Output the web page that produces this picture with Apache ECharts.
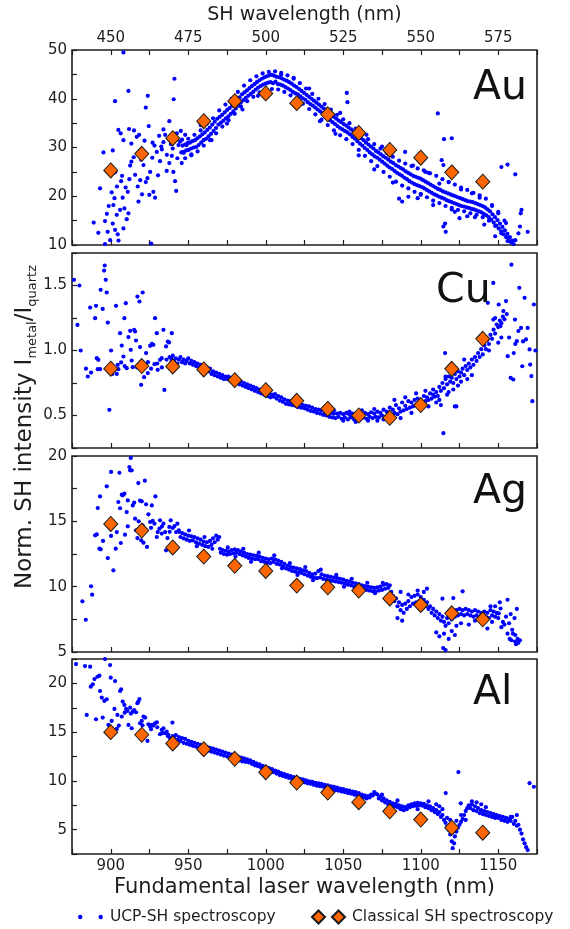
<!DOCTYPE html>
<html><head><meta charset="utf-8">
<script src="https://cdn.jsdelivr.net/npm/echarts@6/dist/echarts.min.js"></script>
<style>html,body{margin:0;padding:0;background:#fff}#chart{width:570px;height:929px}</style>
</head><body><div id="chart"></div>
<script>
// ---------------- DATA ----------------
const metals = ['Au', 'Cu', 'Ag', 'Al'];
const fundamentalTickLabels = [900, 950, 1000, 1050, 1100, 1150];
const shTickLabels = [450, 475, 500, 525, 550, 575];
const auTickLabels = [10, 20, 30, 40, 50];
const cuTickLabels = [0.5, 1.0, 1.5];
const agTickLabels = [5, 10, 15, 20];
const alTickLabels = [5, 10, 15, 20];

const classicalWavelength = [900, 920, 940, 960, 980, 1000, 1020, 1040, 1060, 1080, 1100, 1120, 1140];
const auClassical = [25.3, 28.7, 31.9, 35.4, 39.5, 41.1, 39.1, 36.8, 33.0, 29.5, 27.9, 24.9, 23.0];
const cuClassical = [0.86, 0.88, 0.877, 0.854, 0.772, 0.695, 0.613, 0.551, 0.50, 0.482, 0.58, 0.859, 1.09];
const agClassical = [14.8, 14.29, 13.0, 12.3, 11.6, 11.2, 10.08, 9.95, 9.7, 9.1, 8.6, 7.96, 7.5];
const alClassical = [15.0, 14.73, 13.84, 13.25, 12.26, 10.89, 9.83, 8.8, 7.81, 6.88, 6.03, 5.2, 4.69];

const auUCP = [
[908.2,49.5],[911.4,41.6],[902.8,39.5],[923.9,40.6],[922.6,38.2],[941.1,44.1],[940.6,39.9],[937.8,35.4],[904.9,33.6],[906.4,32.9],[911.8,33.8],[924.5,34.4],[908.2,31.5],[918.3,32.6],[916.8,32.2],[913.3,30.8],[931.2,32.4],[895.3,29.0],[901.3,29.4],[913.3,27.1],[920.0,29.3],[928.2,30.4],[929.7,29.1],[934.0,31.1],[936.2,28.5],[931.8,27.2],[921.1,26.4],[925.4,25.0],[923.7,23.7],[919.0,23.3],[915.7,24.4],[912.5,26.3],[907.3,24.2],[906.7,23.1],[902.8,24.9],[917.4,22.0],[922.6,22.9],[927.5,20.9],[924.9,20.3],[928.6,19.7],[920.2,20.4],[911.0,20.9],[907.7,19.7],[902.4,19.6],[900.6,20.8],[893.1,21.6],[898.7,18.0],[901.7,18.2],[906.0,17.2],[903.9,16.2],[910.3,15.3],[908.8,17.5],[911.4,16.5],[896.3,14.9],[901.3,14.4],[902.8,13.1],[908.2,13.4],[904.5,12.2],[892.0,12.5],[898.0,12.7],[899.6,11.0],[905.0,10.9],[896.3,10.2],[926.1,10.3],[942.2,21.1],[941.5,23.1],[940.4,25.0],[937.8,26.8],[936.1,25.2],[940.0,29.8],[943.7,30.5],[945.8,26.8],[946.9,29.1],[948.0,32.6],[944.7,31.2],[949.0,30.5],[942.6,32.9],[945.2,33.4],[935.1,32.6],[934.0,33.7],[889.0,14.6],[914.8,28.0],[919.6,27.5],[926.8,27.9],[933.0,29.6],[938.8,30.7],[930.5,24.3],[917.9,18.9],[909.6,21.8],[904.0,22.0],[897.5,16.4],[912.0,23.5],[927.0,31.0],[932.6,30.2],[939.4,28.3],[921.8,31.4],[915.0,33.5],[943.0,27.8],
[945.5,29.0],[946.3,30.4],[947.1,28.9],[947.9,30.6],[948.7,29.4],[949.5,30.9],[950.3,29.5],[951.1,31.0],[951.9,29.8],[952.7,31.3],[953.5,30.0],[954.3,31.5],[955.1,30.1],[955.9,31.9],[956.7,30.5],[957.5,32.3],[958.3,31.0],[959.1,32.7],[959.9,31.5],[960.7,33.1],[961.5,31.8],[962.3,33.6],[963.1,32.3],[963.9,34.1],[964.7,32.8],[965.5,34.7],[966.3,33.4],[967.1,35.3],[967.9,34.0],[968.7,35.9],[969.5,34.7],[970.3,36.3],[971.1,35.1],[971.9,36.7],[972.7,35.5],[973.5,37.2],[974.3,36.0],[975.1,37.7],[975.9,36.4],[976.7,38.1],[977.5,36.9],[978.3,38.6],[979.1,37.4],[979.9,39.3],[980.7,38.0],[981.5,39.8],[982.3,38.6],[983.1,40.3],[983.9,39.2],[984.7,40.9],[985.5,39.7],[986.3,41.3],[987.1,40.2],[987.9,41.7],[988.7,40.6],[989.5,42.2],[990.3,41.0],[991.1,42.6],[991.9,41.4],[992.7,43.0],[993.5,41.9],[994.3,43.4],[995.1,42.3],[995.9,43.8],[996.7,42.6],[997.5,44.1],[998.3,42.9],[999.1,44.4],[999.9,43.1],[1000.7,44.6],[1001.5,43.3],[1002.3,44.8],[1003.1,43.4],[1003.9,44.9],[1004.7,43.2],[1005.5,44.7],[1006.3,43.5],[1007.1,44.5],[1007.9,43.0],[1008.7,44.4],[1009.5,42.9],[1010.3,44.2],[1011.1,42.7],[1011.9,43.9],[1012.7,42.4],[1013.5,43.7],[1014.3,42.1],[1015.1,43.4],[1015.9,41.8],[1016.7,43.1],[1017.5,41.4],[1018.3,42.7],[1019.1,41.1],[1019.9,42.4],[1020.7,40.9],[1021.5,42.0],[1022.3,40.5],[1023.1,41.6],[1023.9,40.1],[1024.7,41.2],[1025.5,39.8],[1026.3,40.8],[1027.1,39.3],[1027.9,40.4],[1028.7,38.9],[1029.5,40.0],[1030.3,38.6],[1031.1,39.6],[1031.9,38.2],[1032.7,39.2],[1033.5,37.8],[1034.3,38.8],[1035.1,37.4],[1035.9,38.4],[1036.7,37.0],[1037.5,38.0],[1038.3,36.5],[1039.1,37.6],[1039.9,36.0],[1040.7,37.1],[1041.5,35.6],[1042.3,36.7],[1043.1,35.2],[1043.9,36.3],[1044.7,34.8],[1045.5,35.9],[1046.3,34.4],[1047.1,35.5],[1047.9,34.0],[1048.7,35.2],[1049.5,33.7],[1050.3,34.8],[1051.1,33.4],[1051.9,34.5],[1052.7,33.1],[1053.5,34.1],[1054.3,32.7],[1055.1,33.7],[1055.9,32.2],[1056.7,33.3],[1057.5,31.8],[1058.3,32.9],[1059.1,31.3],[1059.9,32.4],[1060.7,30.8],[1061.5,31.9],[1062.3,30.4],[1063.1,31.5],[1063.9,29.9],[1064.7,31.0],[1065.5,29.5],[1066.3,30.6],[1067.1,29.0],[1067.9,30.2],[1068.7,28.6],[1069.5,29.8],[1070.3,28.2],[1071.1,29.3],[1071.9,27.9],[1072.7,29.0],[1073.5,27.5],[1074.3,28.6],[1075.1,27.1],[1075.9,28.2],[1076.7,26.7],[1077.5,27.9],[1078.3,26.3],[1079.1,27.5],[1079.9,25.9],[1080.7,27.1],[1081.5,25.6],[1082.3,26.8],[1083.1,25.2],[1083.9,26.4],[1084.7,24.8],[1085.5,26.1],[1086.3,24.5],[1087.1,25.8],[1087.9,24.2],[1088.7,25.5],[1089.5,23.8],[1090.3,25.1],[1091.1,23.5],[1091.9,24.8],[1092.7,23.1],[1093.5,24.5],[1094.3,22.8],[1095.1,24.2],[1095.9,22.5],[1096.7,24.0],[1097.5,22.3],[1098.3,23.8],[1099.1,22.1],[1099.9,23.6],[1100.7,21.9],[1101.5,23.3],[1102.3,21.6],[1103.1,23.0],[1103.9,21.3],[1104.7,22.7],[1105.5,21.0],[1106.3,22.4],[1107.1,20.7],[1107.9,22.1],[1108.7,20.4],[1109.5,21.8],[1110.3,20.2],[1111.1,21.5],[1111.9,19.9],[1112.7,21.3],[1113.5,19.7],[1114.3,21.0],[1115.1,19.5],[1115.9,20.8],[1116.7,19.2],[1117.5,20.6],[1118.3,19.0],[1119.1,20.4],[1119.9,18.8],[1120.7,20.2],[1121.5,18.6],[1122.3,20.0],[1123.1,18.4],[1123.9,19.8],[1124.7,18.2],[1125.5,19.6],[1126.3,18.0],[1127.1,19.4],[1127.9,17.9],[1128.7,19.2],[1129.5,17.7],[1130.3,19.0],[1131.1,17.6],[1131.9,18.9],[1132.7,17.4],[1133.5,18.8],[1134.3,17.3],[1135.1,18.6],[1135.9,17.1],[1136.7,18.4],[1137.5,16.9],[1138.3,18.2],[1139.1,16.7],[1139.9,18.0],[1140.7,16.4],[1141.5,17.7],[1142.3,16.1],[1143.1,17.3],[1143.9,15.7],[1144.7,16.9],[1145.5,15.2],[1146.3,16.3],[1147.1,14.6],[1147.9,15.7],[1148.7,14.0],[1149.5,15.1],[1150.3,13.4],[1151.1,14.4],[1151.9,12.8],[1152.7,13.7],[1153.5,12.2],[1154.3,13.0],[1155.1,11.6],[1155.9,12.3],[1156.7,11.0],[1157.5,11.6],[1158.3,10.5],[1159.1,10.9],[1159.9,10.2],
[946,31.6],[948,27.8],[950,31.8],[952,28.6],[954,32.6],[956,29.2],[958,33.5],[960,30.4],[962,34.9],[964,31.5],[966,36.0],[968,32.9],[970,37.6],[972,34.3],[974,38.8],[976,35.6],[978,40.0],[980,36.9],[982,41.4],[984,38.4],[986,42.7],[988,39.5],[990,43.8],[992,40.4],[994,44.6],[996,41.3],[998,45.2],[1000,41.9],[1002,45.5],[1004,42.0],[1006,45.6],[1008,41.9],[1010,45.3],[1012,41.4],[1014,44.8],[1016,40.7],[1018,44.1],[1020,40.0],[1022,43.2],[1024,39.0],[1026,42.1],[1028,37.9],[1030,41.0],[1032,36.8],[1034,40.0],[1036,35.7],[1038,38.9],[1040,34.6],[1042,37.8],[1044,33.5],[1046,36.7],[1048,32.5],[1050,35.8],[1052,31.7],[1054,35.0],[1056,30.7],[1058,33.9],[1060,29.5],[1062,32.8],[1064,28.3],[1066,31.7],[1068,27.2],[1070,30.7],[1072,26.2],[1074,29.8],[1076,25.0],[1078,28.9],[1080,24.0],[1082,28.1],[1084,23.0],[1086,27.3],[1088,22.2],[1090,26.7],[1092,21.6],[1094,26.2],[1096,20.9],[1098,25.7],[1100,20.5],[1102,25.3],[1104,19.8],[1106,24.7],[1108,19.1],[1110,24.2],[1112,18.6],[1114,23.5],[1116,18.0],[1118,22.9],[1120,17.6],[1122,22.4],[1124,17.2],[1126,21.8],[1128,16.9],[1130,21.3],[1132,16.5],[1134,20.7],[1136,16.2],[1138,20.2],[1140,15.7],[1142,19.5],[1144,15.0],[1146,18.2],[1148,13.9],[1150,16.8],[1152,12.4],[1154,15.0],[1156,10.8],
[1052.3,41.2],[1052.7,39.3],[1111.0,37.0],[1115.0,31.7],[1120.0,31.9],[1114.6,13.8],[1115.7,14.4],[1116.1,12.7],[1089.9,29.1],[1086.0,19.5],[1088.0,18.9],[1092.0,19.9],[1113.5,27.4],[1114.6,26.4],[1152.0,26.0],[1156.0,26.5],[1161.0,24.5],[1163.0,12.4],[1164.0,13.8],[1164.5,16.5],[1165.0,17.2],[1169.0,12.7],[1161.0,11.0],[1070.0,25.5],[1075.0,30.2],[1082.0,22.8],[1095.0,26.3],[1098.0,19.6],[1105.0,24.8],[1108.0,18.2],[1118.0,22.9],[1122.0,16.8],[1126.0,21.4],[1130.0,15.9],[1133.0,20.6],[1138.0,19.7],[1141.0,14.2],[1146.0,18.0],[1060.0,28.4],[1065.0,32.6],[1045.0,32.8],[1048.0,37.1],[1035.0,35.4],[1028.0,42.1],[1018.0,44.3],[1010.0,45.0],[995.0,40.6],[985.0,37.8],[975.0,34.9],[965.0,31.5],[958.0,34.6],[952.0,28.4],[1100.0,20.3],[1103.0,25.0],[1112.0,22.6],[1120.0,17.3],[1125.0,15.5],[1135.0,15.7],[1150.0,16.5],[1155.0,14.5],[1148.0,11.8]
];

const cuUCP = [
[876.3,1.544],[879.8,1.50],[878.5,1.197],[880.6,1.0],[885.2,0.80],[887.3,0.83],[886.7,1.33],[889.9,1.249],[890.5,1.344],[891.0,0.941],[892.0,0.928],[891.6,0.856],[893.1,0.856],[893.5,1.467],[894.8,1.32],[895.7,1.615],[896.1,1.654],[896.8,1.544],[897.4,1.446],[898.1,1.215],[899.1,0.544],[900.2,1.0],[903.4,1.344],[903.9,0.82],[904.9,0.856],[904.5,0.89],[906.0,1.133],[906.7,0.908],[907.1,1.038],[908.2,0.954],[908.8,1.249],[909.7,1.364],[910.3,0.864],[911.4,1.103],[912.5,1.151],[912.9,1.005],[913.5,0.923],[914.2,0.872],[915.1,1.159],[915.7,1.146],[916.3,1.077],[917.2,1.415],[918.5,1.377],[918.9,1.026],[919.6,0.736],[920.6,1.446],[921.5,0.795],[922.8,0.98],[923.9,0.826],[925.4,1.036],[926.5,1.051],[927.5,1.044],[928.2,0.895],[928.6,1.249],[929.7,1.133],[930.3,0.851],[931.8,0.928],[932.9,0.941],[934.0,1.159],[934.6,0.697],[935.7,1.031],[936.8,1.069],[937.6,1.062],[939.4,1.133],[939.0,0.941],[884.0,0.86],[898.0,0.86],[901.0,0.82],[909.0,0.88],[917.0,0.87],[924.0,0.91],[930.0,0.90],[933.0,0.87],[936.0,0.93],[926.0,0.86],
[938,0.95],[939,0.91],[940,0.96],[941,0.92],[942,0.94],[943,0.90],[944,0.93],[945,0.95],[946,0.91],[947,0.93],[948,0.90],[949,0.92],[950,0.94],[951,0.90],[952,0.92],[953,0.89],[954,0.91],[955,0.88],[956,0.90],[957,0.87],[958,0.89],[959,0.86],[960,0.88],[961,0.85],[962,0.87],[963,0.84],[964,0.86],[965,0.82],[966,0.84],[967,0.81],[968,0.83],[969,0.80],[970,0.82],[971,0.79],[972,0.81],[973,0.78],[974,0.80],[975,0.78],[976,0.80],[977,0.77],[978,0.79],[979,0.76],[980,0.78],[981,0.75],[982,0.77],[983,0.74],[984,0.76],[985,0.73],[986,0.75],[987,0.72],[988,0.74],[989,0.71],[990,0.73],[991,0.70],[992,0.72],[993,0.69],[994,0.71],[995,0.68],[996,0.70],[997,0.67],[998,0.69],[999,0.66],[1000,0.68],[1001,0.65],[1002,0.67],[1003,0.64],[1004,0.66],[1005,0.645],[1006,0.665],[1007,0.63],[1008,0.65],[1009,0.615],[1010,0.64],[1011,0.605],[1012,0.625],[1013,0.59],[1014,0.615],[1015,0.585],[1016,0.61],[1017,0.58],[1018,0.60],[1019,0.575],[1020,0.595],[1021,0.565],[1022,0.59],[1023,0.56],[1024,0.58],[1025,0.555],[1026,0.575],[1027,0.545],[1028,0.57],[1029,0.535],[1030,0.56],[1031,0.53],[1032,0.55],[1033,0.52],[1034,0.545],[1035,0.515],[1036,0.54],[1037,0.505],[1038,0.53],[1039,0.50],[1040,0.525],[1041,0.49],[1042,0.52],[1043,0.485],[1044,0.515],[1045,0.48],[1046,0.515],[1047,0.49],[1048,0.52],[1049,0.475],[1050,0.51],[1051,0.485],[1052,0.52],[1053,0.47],[1054,0.505],[1055,0.485],[1056,0.515],[1057,0.47],[1058,0.50],[1059,0.48],[1060,0.51],[1061,0.47],[1062,0.505],[1063,0.485],[1064,0.52],[1065,0.475],[1066,0.51],[1067,0.49],[1068,0.525],[1069,0.48],[1070,0.515],[1071,0.49],[1072,0.53],[1073,0.485],[1074,0.52],[1075,0.50],[1076,0.545],[1077,0.49],[1078,0.53],[1079,0.51],[1080,0.56],[1081,0.50],[1082,0.545],[1083,0.52],[1084,0.58],[1085,0.51],[1086,0.555],[1087,0.53],[1088,0.60],[1089,0.54],[1090,0.575],[1091,0.55],[1092,0.61],[1093,0.56],[1094,0.60],[1095,0.57],[1096,0.62],[1097,0.58],[1098,0.63],[1099,0.59],[1100,0.62],[1101,0.60],[1102,0.65],[1103,0.61],[1104,0.64],[1105,0.62],[1106,0.67],[1107,0.63],[1108,0.66],[1109,0.645],[1110,0.68],[1111,0.65],[1112,0.72],[1113,0.69],[1114,0.75],[1115,0.71],[1116,0.78],[1117,0.74],[1118,0.80],[1119,0.76],[1120,0.79],[1121,0.75],[1122,0.82],[1123,0.78],[1124,0.84],[1125,0.80],[1126,0.83],[1127,0.86],[1128,0.81],[1129,0.88],[1130,0.85],[1131,0.90],[1132,0.87],[1133,0.93],[1134,0.89],[1135,0.95],[1136,0.92],[1137,0.98],[1138,0.95],[1139,1.01],[1140,0.97],[1141,1.04],[1142,1.01],[1143,1.08],[1144,1.05],[1145,1.12],[1146,1.09],[1147,1.16],[1148,1.13],[1149,1.20],[1150,1.18],[1151,1.23],[1152,1.21],[1153,1.26],[1154,1.24],
[1083,0.62],[1087,0.48],[1090,0.64],[1094,0.52],[1097,0.67],[1100,0.55],[1103,0.69],[1105,0.57],[1108,0.70],[1110,0.60],[1112,0.62],[1113,0.58],[1114.6,0.364],[1115.7,0.98],[1116,0.80],[1117,0.66],[1118,0.68],[1119,0.86],[1121,0.70],[1122,0.57],[1123,0.57],[1124,0.73],[1126,0.76],[1128,0.93],[1130,0.78],[1133,0.81],[1062,0.54],[1070,0.55],[1076,0.47],[1072,0.46],[1066,0.46],[1058,0.45],[1050,0.46],[1044,0.54],[1054,0.53],
[1143.3,1.367],[1146.8,1.52],[1146.8,1.238],[1150.3,1.354],[1151.4,1.187],[1153.3,1.303],[1155.0,1.38],[1156.1,0.956],[1158.5,1.66],[1158.0,0.79],[1159.7,0.777],[1160.8,1.238],[1162.0,1.072],[1163.6,1.482],[1164.7,1.174],[1165.5,0.879],[1167.0,1.405],[1167.9,1.085],[1169.0,1.174],[1170.2,1.008],[1171.4,0.803],[1172.0,0.61],[1173.0,1.354],[1170.6,0.892],[1157,1.10],[1161,1.05],[1163,1.15],[1166,1.07],[1155.5,1.28],[1150,1.06],[1148,1.25],[1144,1.0],[1152,1.10],[1160,0.98],[1174,1.0]
];

const agUCP = [
[881.7,8.88],[883.9,7.47],[887.3,10.03],[888.0,9.39],[889.9,13.93],[891.0,14.0],[891.6,16.02],[892.7,12.91],[893.5,12.86],[893.1,16.91],[897.4,17.68],[898.1,12.19],[900.2,18.78],[900.2,13.88],[901.7,11.25],[903.2,12.91],[903.9,14.18],[904.9,16.48],[905.6,18.72],[906.5,13.34],[907.1,17.04],[907.7,16.99],[908.8,17.12],[909.2,13.98],[910.3,15.71],[911.0,14.62],[912.0,19.16],[912.5,18.9],[912.9,19.85],[913.5,18.9],[914.2,16.22],[915.1,16.43],[915.7,15.2],[916.3,14.31],[917.2,13.72],[917.8,17.93],[918.9,16.58],[919.6,13.55],[920.0,16.53],[921.1,13.37],[922.0,18.11],[922.8,16.3],[923.4,13.04],[924.3,15.54],[925.4,14.95],[926.5,16.22],[927.1,15.03],[928.2,14.82],[928.8,16.91],[929.7,13.8],[930.3,14.18],[931.4,14.44],[931.8,15.08],[932.9,14.06],[934.0,14.82],[935.1,14.18],[935.7,12.78],[936.6,13.72],[937.8,14.57],[938.7,15.08],[940.0,14.49],[941.1,14.64],[942.2,14.18],[943.0,14.82],[943.9,14.31],[895.0,13.5],[902.0,14.9],[906.0,16.0],[911.0,16.6],[918.0,15.0],[920.5,14.7],[926.0,14.5],[933.0,14.6],[938.0,14.2],
[944,14.2],[945,13.8],[946,14.1],[947,13.7],[948,14.0],[949,13.6],[950,13.9],[951,13.5],[952,13.85],[953,13.55],[954,13.8],[955,13.4],[956,13.7],[957,13.3],[958,13.6],[959,13.2],[960,13.45],[961,13.1],[962,13.4],[963,13.05],[964,13.5],[965,13.2],[966,13.7],[967,13.4],[968,13.9],[969,13.6],[970,13.8],[970.5,12.9],[971,12.6],[972,12.8],[973,12.5],[974,12.75],[975,12.45],[976,12.7],[977,12.5],[978,12.8],[979,12.55],[980,12.85],[981,12.6],[982,12.8],[983,12.5],[984,12.7],[985,12.4],[986,12.6],[987,12.3],[988,12.5],[989,12.2],[990,12.45],[991,12.15],[992,12.4],[993,12.1],[994,12.35],[995,12.1],[996,12.3],[997,11.95],[998,12.2],[999,11.9],[1000,12.15],[1001,11.85],[1002,12.1],[1003,11.8],[1004,12.15],[1005,11.9],[1006,12.1],[1007,11.75],[1008,12.0],[1009,11.7],[1010,11.9],[1011,11.55],[1012,11.75],[1013,11.4],[1014,11.6],[1015,11.3],[1016,11.5],[1017,11.2],[1018,11.45],[1019,11.15],[1020,11.4],[1021,11.1],[1022,11.35],[1023,11.05],[1024,11.25],[1025,10.95],[1026,11.2],[1027,10.85],[1028,11.05],[1029,10.75],[1030,10.95],[1031,10.7],[1032,11.0],[1033,10.65],[1034,11.2],[1035,10.7],[1036,10.95],[1037,10.6],[1038,10.85],[1039,10.55],[1040,10.8],[1041,10.5],[1042,10.75],[1043,10.45],[1044,10.7],[1045,10.4],[1046,10.65],[1047,10.35],[1048,10.6],[1049,10.3],[1050,10.55],[1051,10.25],[1052,10.45],[1053,10.15],[1054,10.4],[1055,10.1],[1056,10.3],[1057,10.0],[1058,10.25],[1059,9.95],[1060,10.2],[1061,9.9],[1062,10.1],[1063,9.8],[1064,10.05],[1065,9.75],[1066,10.0],[1067,9.7],[1068,9.95],[1069,9.65],[1070,9.9],[1071,9.65],[1072,9.95],[1073,9.7],[1074,10.0],[1075,9.75],[1076,10.15],[1077,9.85],[1078,10.2],[1079,9.9],[1080,10.1],[1081,9.6],[1082,9.3],[1083,8.9],[1084,9.1],[1085,8.5],[1086,8.8],[1087,8.2],[1088,8.6],[1089,8.0],[1090,8.7],[1091,8.3],[1092,8.9],[1093,8.5],[1094,9.2],[1095,8.7],[1096,9.3],[1097,8.8],[1098,9.4],[1099,8.9],[1100,9.2],[1101,8.8],[1102,9.0],[1103,8.5],[1104,8.8],[1105,8.3],[1106,8.5],[1107,8.0],[1108,8.3],[1109,7.8],[1110,8.1],[1111,7.6],[1112,7.9],[1113,7.4],[1114,7.7],[1115,7.3],[1116,7.0],[1117,7.6],[1118,7.2],[1119,7.8],[1120,7.5],[1121,8.1],[1122,7.7],[1123,8.2],[1124,7.8],[1125,8.3],[1126,7.9],[1127,8.2],[1128,7.8],[1129,8.3],[1130,7.9],[1131,8.2],[1132,7.8],[1133,8.1],[1134,7.7],[1135,8.2],[1136,7.8],[1137,8.1],[1138,7.7],[1139,8.0],[1140,7.6],[1141,8.1],[1142,7.7],[1143,8.0],[1144,7.6],[1145,8.2],[1146,7.8],[1147,8.1],[1148,7.7],[1149,8.0],[1150,7.6],
[950.5,14.3],[955.5,13.1],[960.5,13.8],[965.5,12.9],[975.5,13.0],[980.5,12.3],[985.5,12.9],[990.5,11.9],[995.5,12.6],[1000.5,11.6],[1005.5,12.4],[1010.5,11.4],[1015.5,11.8],[1020.5,10.9],[1025.5,11.5],[1030.5,10.5],[1035.5,11.3],[1040.5,10.3],[1045.5,10.9],[1050.5,10.0],[1055.5,10.6],[1060.5,9.7],[1065.5,10.3],[1070.5,9.5],[1075.5,10.3],
[1114,9.08],[1121,9.13],[1127,9.64],[1104,9.85],[1102,9.6],[1098,9.7],[1092,9.4],[1087,9.6],[1085,7.6],[1088,7.4],[1110,6.5],[1112,6.2],[1115,6.4],[1118,6.0],[1120,6.6],[1122,6.3],[1114.5,5.3],[1116,5.15],[1123,7.0],[1126,7.2],[1131,7.1],[1135,7.4],[1140,7.2],[1143,6.8],[1146,7.3],[1148,8.5],
[1150.3,7.95],[1151.5,8.33],[1153.0,7.3],[1155.0,7.7],[1156.0,6.4],[1157.4,6.0],[1158.5,5.9],[1159.5,6.4],[1160.8,5.8],[1161.5,5.6],[1162.5,6.0],[1163.0,5.7],[1160.5,7.6],[1162.0,8.3],[1158.0,7.9],[1156.0,9.0],[1154.0,7.1],[1145.0,8.5],[1152.0,6.9],[1157.0,7.2],[1159.0,6.7],[1161.0,6.3],[1164.0,5.9],[1151.0,8.8]
];

const alUCP = [
[877.6,21.98],[883.4,21.77],[886.7,21.71],[896.3,22.49],[899.6,21.88],[884.5,16.76],[887.1,19.66],[888.4,19.9],[889.5,20.44],[890.5,16.32],[891.4,20.68],[892.7,20.79],[893.1,19.22],[894.2,18.54],[894.8,16.49],[895.9,18.2],[897.4,18.37],[898.5,15.74],[900.0,20.58],[900.6,16.15],[902.4,17.38],[902.8,20.24],[903.9,15.33],[904.3,16.76],[905.2,15.67],[906.0,19.22],[906.7,19.39],[907.1,16.59],[907.7,18.13],[908.8,17.79],[909.9,17.38],[910.8,17.17],[911.4,15.74],[912.5,17.51],[913.5,15.4],[914.2,17.1],[915.1,17.27],[916.3,17.04],[917.2,17.96],[917.8,18.13],[918.5,18.4],[918.9,15.91],[920.0,16.15],[921.1,16.59],[922.2,16.49],[923.7,14.1],[924.3,15.81],[925.4,15.57],[926.5,15.74],[927.5,15.67],[928.6,15.91],[929.7,16.01],[931.8,14.79],[932.9,15.23],[934.0,15.4],[935.1,14.89],[936.1,15.06],[937.2,14.72],[939.8,15.98],[938.3,14.38],[940.4,14.38],[909.0,17.0],[913.0,16.9],[920.5,15.7],[926.0,15.3],[930.0,15.5],[933.5,14.9],[936.8,14.6],
[940,14.6],[941,14.3],[942,14.7],[943,14.2],[944,14.5],[945,14.1],[946,14.4],[947,13.9],[948,14.3],[949,13.8],[950,14.1],[951,13.7],[952,14.0],[953,13.6],[954,13.9],[955,13.5],[956,13.8],[957,13.4],[958,13.7],[959,13.3],[960,13.6],[961,13.2],[962,13.5],[963,13.1],[964,13.4],[965,13.0],[966,13.3],[967,12.9],[968,13.2],[969,12.8],[970,13.1],[971,12.7],[972,13.0],[973,12.6],[974,12.9],[975,12.5],[976,12.8],[977,12.4],[978,12.7],[979,12.3],[980,12.6],[981,12.2],[982,12.5],[983,12.1],[984,12.4],[985,12.0],[986,12.3],[987,11.95],[988,12.2],[989,11.9],[990,12.1],[991,11.75],[992,11.95],[993,11.6],[994,11.8],[995,11.5],[996,11.7],[997,11.35],[998,11.55],[999,11.2],[1000,11.45],[1001,11.1],[1002,11.3],[1003,11.0],[1004,11.2],[1005,10.9],[1006,11.05],[1007,10.75],[1008,10.95],[1009,10.6],[1010,10.8],[1011,10.5],[1012,10.7],[1013,10.4],[1014,10.6],[1015,10.3],[1016,10.5],[1017,10.2],[1018,10.4],[1019,10.1],[1020,10.3],[1021,10.0],[1022,10.2],[1023,9.9],[1024,10.15],[1025,9.85],[1026,10.05],[1027,9.75],[1028,9.95],[1029,9.7],[1030,9.9],[1031,9.6],[1032,9.8],[1033,9.5],[1034,9.75],[1035,9.45],[1036,9.7],[1037,9.4],[1038,9.6],[1039,9.3],[1040,9.55],[1041,9.25],[1042,9.45],[1043,9.15],[1044,9.4],[1045,9.05],[1046,9.3],[1047,9.0],[1048,9.2],[1049,8.9],[1050,9.15],[1051,8.85],[1052,9.05],[1053,8.75],[1054,9.0],[1055,8.7],[1056,8.9],[1057,8.6],[1058,8.85],[1059,8.5],[1060,8.75],[1061,8.45],[1062,8.6],[1063,8.3],[1064,8.5],[1065,8.2],[1066,8.45],[1067,8.3],[1068,8.6],[1069,8.5],[1070,8.85],[1071,8.7],[1072,8.6],[1073,8.2],[1074,8.4],[1075,8.0],[1076,8.2],[1077,7.8],[1078,8.0],[1079,7.6],[1080,7.85],[1081,7.5],[1082,7.7],[1083,7.4],[1084,7.65],[1085,7.3],[1086,7.5],[1087,7.1],[1088,7.4],[1089,7.0],[1090,7.3],[1091,7.1],[1092,7.5],[1093,7.3],[1094,7.6],[1095,7.4],[1096,7.7],[1097,7.45],[1098,7.75],[1099,7.5],[1100,7.7],[1101,7.45],[1102,7.65],[1103,7.3],[1104,7.5],[1105,7.2],[1106,7.4],[1107,7.0],[1108,7.2],[1109,6.8],[1110,7.0],[1111,6.6],[1112,6.8],[1113,6.3],[1114,6.5],[1115,6.0],[1116,5.7],[1117,5.3],[1118,5.0],[1119,4.5],[1120,3.8],[1120.6,3.1],[1121.5,3.6],[1122,4.3],[1123,4.8],[1124,5.2],[1125,5.5],[1126,5.8],[1127,6.1],[1128,6.5],[1129,6.9],[1130,7.2],[1131,7.5],[1132,7.2],[1133,7.6],[1134,7.0],[1135,7.4],[1136,6.9],[1137,7.2],[1138,6.7],[1139,7.0],[1140,6.6],[1141,6.9],[1142,6.5],[1143,6.8],[1144,6.4],[1145,6.7],[1146,6.3],[1147,6.6],[1148,6.2],[1149,6.5],[1150,6.2],[1151,6.4],[1152,6.0],[1153,6.3],[1154,5.9],[1155,6.2],[1156,5.8],[1157,6.1],[1158,5.9],[1159,6.3],[1160,5.6],[1161,5.9],[1162,5.4],[1163,5.5],[1164,5.0],[1165,4.6],[1166,4.0],[1167,3.6],[1168,3.2],[1169,2.9],
[1124.3,10.9],[1116.1,8.75],[1125.8,7.7],[1110,7.6],[1112,7.4],[1121,5.5],[1123,5.9],[1126,6.5],[1129,6.0],[1119,6.0],[1117,6.2],[1114,7.1],[1133,7.9],[1136,7.8],[1139,7.6],[1142,7.3],[1170.2,9.76],[1173,9.4],[1162,6.5],[1158,6.3],[1075,8.6],[1085,8.0],[1098,7.1],[1105,7.9]
];

// ---------------- CHART ----------------
const FONT = 'DejaVu Sans';
const INK = '#1e1e1e';
const ucpSets = [auUCP, cuUCP, agUCP, alUCP];
const classicalSets = [auClassical, cuClassical, agClassical, alClassical];
const yLabelSets = [auTickLabels, cuTickLabels, agTickLabels, alTickLabels];
const yRanges = [[10, 50, 5], [0.25, 1.75, 0.25], [5, 20, 2.5], [2.5, 22.5, 2.5]];
const gridTops = [50, 253, 456, 659];
const gridHeights = [195, 195, 196, 195];
const UCP_NAME = 'UCP-SH spectroscopy';
const CL_NAME = 'Classical SH spectroscopy';

function hasVal(list, v) { return list.some(t => Math.abs(t - v) < 1e-6); }

const grids = gridTops.map((t, i) => ({
  left: 72, width: 465, top: t, height: gridHeights[i],
  show: true, borderColor: INK, borderWidth: 1.6, backgroundColor: 'transparent'
}));

const xAxes = metals.map((m, i) => ({
  type: 'value', gridIndex: i, min: 875, max: 1175, interval: 25,
  axisLine: { show: false },
  axisTick: { show: true, inside: true, length: 5, lineStyle: { color: INK, width: 1.2 } },
  splitLine: { show: false },
  axisLabel: {
    show: i === 3, margin: 5, fontSize: 15, fontFamily: FONT, color: INK,
    formatter: v => hasVal(fundamentalTickLabels, v) ? String(v) : ''
  },
  name: i === 3 ? 'Fundamental laser wavelength (nm)' : '',
  nameLocation: 'middle', nameGap: 23,
  nameTextStyle: { fontSize: 21, fontFamily: FONT, color: INK }
}));
xAxes.push({
  type: 'value', gridIndex: 0, position: 'top', min: 437.5, max: 587.5, interval: 12.5,
  axisLine: { show: false },
  axisTick: { show: true, inside: true, length: 5, lineStyle: { color: INK, width: 1.2 } },
  splitLine: { show: false },
  axisLabel: {
    show: true, margin: 4, fontSize: 15, fontFamily: FONT, color: INK,
    formatter: v => hasVal(shTickLabels, v) ? String(v) : ''
  },
  name: 'SH wavelength (nm)', nameLocation: 'middle', nameGap: 25,
  nameTextStyle: { fontSize: 19, fontFamily: FONT, color: INK }
});

const yAxes = metals.map((m, i) => ({
  type: 'value', gridIndex: i, min: yRanges[i][0], max: yRanges[i][1], interval: yRanges[i][2],
  axisLine: { show: false },
  axisTick: { show: true, inside: true, length: 5, lineStyle: { color: INK, width: 1.2 } },
  splitLine: { show: false },
  axisLabel: {
    show: true, margin: 5, fontSize: 15, fontFamily: FONT, color: INK,
    formatter: v => hasVal(yLabelSets[i], v) ? (i === 1 ? v.toFixed(1) : String(v)) : ''
  }
}));

const series = [];
metals.forEach((m, i) => {
  series.push({
    name: UCP_NAME, type: 'scatter', xAxisIndex: i, yAxisIndex: i,
    data: ucpSets[i], symbol: 'circle', symbolSize: 4.2, silent: true, z: 2,
    itemStyle: { color: '#0000ff', opacity: 1 }
  });
  series.push({
    name: CL_NAME, type: 'scatter', xAxisIndex: i, yAxisIndex: i,
    data: classicalWavelength.map((w, k) => [w, classicalSets[i][k]]),
    symbol: 'diamond', symbolSize: [14, 15], silent: true, z: 3,
    itemStyle: { color: '#ff6600', borderColor: '#1a1a1a', borderWidth: 1, opacity: 1 }
  });
});

const panelLabelPos = [[473, 88], [436, 291], [473, 492], [473, 693]];
const graphics = metals.map((m, i) => ({
  type: 'text', x: panelLabelPos[i][0], y: panelLabelPos[i][1], silent: true, z: 10,
  style: { text: m, fontSize: 41, fontFamily: FONT, fill: '#111',
           align: 'left', verticalAlign: 'middle', textAlign: 'left', textVerticalAlign: 'middle' }
}));
graphics.push({
  type: 'text', x: 25, y: 427, rotation: Math.PI / 2, silent: true, z: 10,
  style: {
    text: '{a|Norm. SH intensity I}{b|metal}{a|/I}{b|quartz}',
    align: 'center', verticalAlign: 'middle', textAlign: 'center', textVerticalAlign: 'middle',
    fill: INK,
    rich: {
      a: { fontSize: 23, fontFamily: FONT, fill: INK, color: INK, lineHeight: 28 },
      b: { fontSize: 13, fontFamily: FONT, fill: INK, color: INK, lineHeight: 18, verticalAlign: 'bottom' }
    }
  }
});

const option = {
  animation: false,
  backgroundColor: '#ffffff',
  grid: grids,
  xAxis: xAxes,
  yAxis: yAxes,
  legend: [
    {
      data: [UCP_NAME], left: 78, top: 909, padding: 0, itemGap: 0,
      icon: 'path://M0,2.2A2.2,2.2,0,1,1,4.4,2.2A2.2,2.2,0,1,1,0,2.2Z M20.5,2.2A2.2,2.2,0,1,1,24.9,2.2A2.2,2.2,0,1,1,20.5,2.2Z',
      itemWidth: 25, itemHeight: 4.4, selectedMode: false,
      itemStyle: { opacity: 1 },
      textStyle: { fontSize: 15.5, fontFamily: FONT, color: INK, padding: [0, 0, 0, 2] }
    },
    {
      data: [CL_NAME], left: 311, top: 909, padding: 0, itemGap: 0,
      icon: 'path://M0,6.5L6.5,0L13,6.5L6.5,13Z M20,6.5L26.5,0L33,6.5L26.5,13Z',
      itemWidth: 33, itemHeight: 13, selectedMode: false,
      itemStyle: { opacity: 1 },
      textStyle: { fontSize: 15.5, fontFamily: FONT, color: INK, padding: [0, 0, 0, 2] }
    }
  ],
  graphic: graphics,
  series: series
};

const chart = echarts.init(document.getElementById('chart'), null, { renderer: 'canvas' });
chart.setOption(option);
</script>
</body></html>
